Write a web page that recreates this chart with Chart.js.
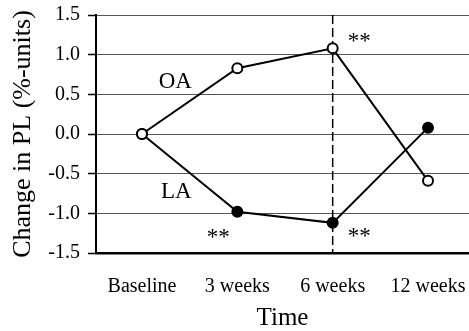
<!DOCTYPE html>
<html>
<head>
<meta charset="utf-8">
<script src="https://cdn.jsdelivr.net/npm/chart.js@4.4.0/dist/chart.umd.min.js"></script>
<style>
  body { margin: 0; background: #fff; }
</style>
</head>
<body>
<canvas id="chart" width="469" height="331"></canvas>
<script>
// values
const timeLabels = ['Baseline', '3 weeks', '6 weeks', '12 weeks'];
const oaValues = [0, 0.83, 1.08, -0.59];
const laValues = [0, -0.98, -1.12, 0.08];
const yMin = -1.5;
const yMax = 1.5;
const yStep = 0.5;

// text placed in data units
const notes = [
  { text: 'OA', x: 0.35, y: 0.66 },
  { text: 'LA', x: 0.36, y: -0.73 },
  { text: '**', x: 2.28, y: 1.16 },
  { text: '**', x: 0.8, y: -1.31 },
  { text: '**', x: 2.28, y: -1.30 }
];
const markerWeek = 2;

Chart.defaults.font.family = "'Liberation Serif', 'Times New Roman', serif";
Chart.defaults.color = '#000';

const dashLine = {
  id: 'dashLine',
  beforeDatasetsDraw(chart) {
    const { ctx, chartArea, scales } = chart;
    const x = scales.x.getPixelForValue(markerWeek);
    ctx.save();
    ctx.strokeStyle = '#000';
    ctx.lineWidth = 1.5;
    ctx.setLineDash([9, 4]);
    ctx.beginPath();
    ctx.moveTo(x, chartArea.top);
    ctx.lineTo(x, chartArea.bottom);
    ctx.stroke();
    ctx.restore();
  }
};

const noteText = {
  id: 'noteText',
  afterDatasetsDraw(chart) {
    const { ctx, scales } = chart;
    ctx.save();
    ctx.fillStyle = '#000';
    ctx.textAlign = 'center';
    ctx.textBaseline = 'middle';
    ctx.font = "23px 'Liberation Serif', serif";
    notes.forEach(n => {
      ctx.fillText(n.text, scales.x.getPixelForValue(n.x), scales.y.getPixelForValue(n.y));
    });
    ctx.restore();
  }
};

const ctx = document.getElementById('chart');

const myChart = new Chart(ctx, {
  type: 'line',
  data: {
    datasets: [{
      label: 'OA',
      data: oaValues.map((v, i) => ({ x: i, y: v })),
      borderColor: '#000',
      borderWidth: 2,
      pointRadius: 5,
      pointBorderWidth: 2,
      pointBorderColor: '#000',
      pointBackgroundColor: '#fff'
    }, {
      label: 'LA',
      data: laValues.map((v, i) => ({ x: i, y: v })),
      borderColor: '#000',
      borderWidth: 2,
      pointRadius: 5,
      pointBorderWidth: 2,
      pointBorderColor: '#000',
      pointBackgroundColor: '#000'
    }]
  },
  options: {
    responsive: false,
    animation: false,
    layout: { autoPadding: false, padding: { top: 15, right: 0, left: 0, bottom: 0 } },
    plugins: {
      legend: { display: false },
      tooltip: { enabled: false }
    },
    scales: {
      x: {
        type: 'linear',
        min: -0.4825,
        max: 3.43,
        afterBuildTicks: s => { s.ticks = timeLabels.map((_, i) => ({ value: i })); },
        afterFit: s => {
          s.height = 78;
          s.paddingLeft = 0;
          s.paddingRight = 0;
        },
        ticks: {
          callback: v => timeLabels[v],
          font: { size: 20 },
          padding: 22,
          maxRotation: 0,
          autoSkip: false
        },
        grid: { display: true, drawOnChartArea: false, drawTicks: false },
        border: { color: '#000', width: 2.5 },
        title: {
          display: true,
          text: 'Time',
          font: { size: 25, lineHeight: 1 },
          padding: { top: 0, bottom: 0.5 }
        }
      },
      y: {
        min: yMin,
        max: yMax,
        afterFit: s => {
          s.width = 96;
          s.paddingTop = 0;
          s.paddingBottom = 0;
        },
        ticks: {
          stepSize: yStep,
          callback: v => v.toFixed(1),
          font: { size: 20 },
          padding: 8
        },
        grid: { color: '#555', lineWidth: 1, tickColor: '#000', tickLength: 8, tickWidth: 1.5 },
        border: { color: '#000', width: 2 },
        title: {
          display: true,
          text: 'Change in PL (%-units)',
          font: { size: 26 },
          padding: { top: 8, bottom: 0 }
        }
      }
    }
  },
  plugins: [dashLine, noteText]
});
</script>
</body>
</html>
